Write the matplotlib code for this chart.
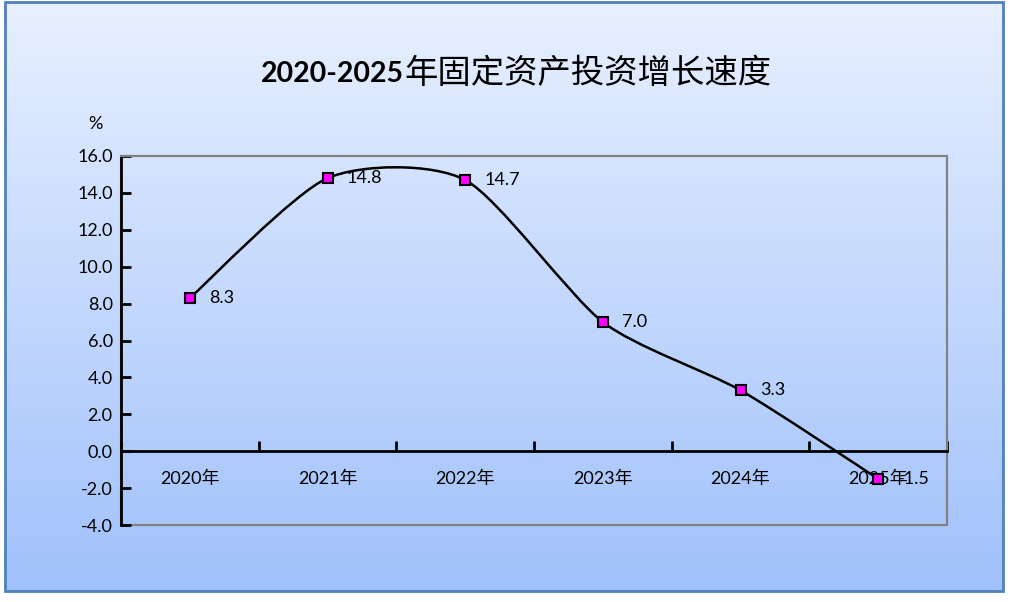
import numpy as np
import matplotlib
matplotlib.use("Agg")
import matplotlib.pyplot as plt
from matplotlib.path import Path
from matplotlib.patches import PathPatch, Rectangle

plt.rcParams['font.family'] = ['Lato', 'Noto Sans CJK SC', 'DejaVu Sans']

years = ["2020年", "2021年", "2022年", "2023年", "2024年", "2025年"]
growth = [8.3, 14.8, 14.7, 7.0, 3.3, -1.5]
y_ticks = [-4.0, -2.0, 0.0, 2.0, 4.0, 6.0, 8.0, 10.0, 12.0, 14.0, 16.0]


def smooth_path(xs, ys, k=0.12):
    # smoothed line like Excel: cubic Bezier, control points from neighbours
    pts = np.column_stack([xs, ys])
    n = len(pts)
    verts = [pts[0]]
    codes = [Path.MOVETO]
    for i in range(n - 1):
        p0 = pts[i - 1] if i > 0 else pts[i]
        p1 = pts[i]
        p2 = pts[i + 1]
        p3 = pts[i + 2] if i + 2 < n else pts[i + 1]
        c1 = p1 + (p2 - p0) * k
        c2 = p2 - (p3 - p1) * k
        verts += [c1, c2, p2]
        codes += [Path.CURVE4] * 3
    return Path(verts, codes)


fig = plt.figure(figsize=(10.1, 6.02), dpi=100)

# gradient background with blue frame
bg = fig.add_axes([0, 0, 1, 1], zorder=-5)
grad = np.linspace(0, 1, 256).reshape(-1, 1)
top = np.array([232, 240, 255]) / 255
bot = np.array([160, 193, 251]) / 255
img = top + (bot - top) * grad[:, :, None]
bg.imshow(img, aspect="auto", extent=[5, 1003, 591, 2])
bg.set_xlim(0, 1010)
bg.set_ylim(602, 0)
bg.add_patch(Rectangle((5, 2), 998, 589, fill=False, edgecolor="#4f81bd", lw=2))
bg.axis("off")

ax = fig.add_axes([121 / 1010, 77 / 602, 826 / 1010, 369 / 602])
ax.set_facecolor("none")
ax.patch.set_edgecolor("#808080")
ax.patch.set_linewidth(1.5)

x = np.arange(len(years))
ax.add_patch(PathPatch(smooth_path(x, growth), facecolor="none",
                       edgecolor="black", lw=1.8, zorder=3))
ax.plot(x, growth, ls="none", marker="s", ms=7.5, mfc="#ff00ff",
        mec="black", mew=1.5, zorder=4)
for xi, v in zip(x, growth):
    ax.annotate(f"{v:.1f}", (xi, v), xytext=(14, 0), textcoords="offset points",
                ha="left", va="center", fontsize=13, zorder=5)

ax.set_xlim(-0.5, len(years) - 0.5)
ax.set_ylim(-4, 16)
ax.set_yticks(y_ticks)
ax.set_yticklabels([f"{t:.1f}" for t in y_ticks])
ax.set_xticks(x)
ax.set_xticklabels(years)
ax.set_xticks(np.arange(-0.5, len(years)), minor=True)
ax.tick_params(axis="x", which="major", length=0, pad=14, labelsize=13)
ax.tick_params(axis="x", which="minor", direction="in", length=7, width=2)
ax.tick_params(axis="y", direction="in", length=7, width=2, pad=6, labelsize=13)

ax.spines["bottom"].set_position(("data", 0))
ax.spines["bottom"].set_linewidth(2)
ax.spines["left"].set_linewidth(2)
ax.spines["top"].set_color("#808080")
ax.spines["right"].set_color("#808080")
ax.spines["top"].set_linewidth(1.5)
ax.spines["right"].set_linewidth(1.5)

fig.text(95 / 1010, 1 - 124 / 602, "%", ha="center", va="center", fontsize=13)
fig.text(404 / 1010, 1 - 74 / 602, "2020-2025", ha="right", va="center",
         fontsize=20.5, fontweight="bold")
fig.text(404 / 1010, 1 - 74 / 602, "年固定资产投资增长速度", ha="left", va="center",
         fontsize=24, family=["Noto Sans CJK SC", "DejaVu Sans"])

fig.savefig("out.png", dpi=100)
